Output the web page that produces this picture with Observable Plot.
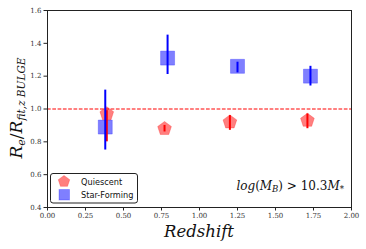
<!DOCTYPE html>
<html>
<head>
<meta charset="utf-8">
<script src="https://cdn.jsdelivr.net/npm/d3@7"></script>
<script src="https://cdn.jsdelivr.net/npm/@observablehq/plot@0.6"></script>
<style>
  html, body { margin: 0; padding: 0; background: #fff; }
  #chart svg { display: block; }
</style>
</head>
<body>
<div id="chart"></div>
<script>
// Quiescent (red pentagons)
const redshiftQ = [0.39, 0.77, 1.20, 1.71];
const ratioQ    = [0.97, 0.88, 0.92, 0.93];
const lowQ      = [0.80, 0.86, 0.87, 0.88];
const highQ     = [0.99, 0.90, 0.96, 0.97];
// Star-Forming (blue squares)
const redshiftSF = [0.38, 0.79, 1.25, 1.73];
const ratioSF    = [0.89, 1.31, 1.26, 1.20];
const lowSF      = [0.75, 1.21, 1.22, 1.14];
const highSF     = [1.115, 1.45, 1.285, 1.26];
// axes
const xTicks = [0, 0.25, 0.5, 0.75, 1.0, 1.25, 1.5, 1.75, 2.0];
const yTicks = [0.4, 0.6, 0.8, 1.0, 1.2, 1.4, 1.6];
const refLine = [1.0];

const quiescent = redshiftQ.map((z, i) => ({z, r: ratioQ[i], lo: lowQ[i], hi: highQ[i]}));
const starForming = redshiftSF.map((z, i) => ({z, r: ratioSF[i], lo: lowSF[i], hi: highSF[i]}));

const pentagon = {
  draw(ctx, size) {
    const r = Math.sqrt(size / Math.PI);
    for (let i = 0; i < 5; i++) {
      const a = -Math.PI / 2 + i * 2 * Math.PI / 5;
      const x = r * Math.cos(a), y = r * Math.sin(a);
      if (i) ctx.lineTo(x, y); else ctx.moveTo(x, y);
    }
    ctx.closePath();
  }
};

const svg = Plot.plot({
  width: 366,
  height: 249,
  marginLeft: 47,
  marginRight: 15,
  marginTop: 10,
  marginBottom: 42,
  style: {fontFamily: "DejaVu Serif", fontSize: "7px", color: "#333", background: "#fff"},
  x: {domain: [0, 2]},
  y: {domain: [0.4, 1.6]},
  marks: [
    Plot.axisX({ticks: xTicks, tickFormat: d => d.toFixed(2), tickSize: 3.5, tickPadding: 2.5, label: null, stroke: "#222"}),
    Plot.axisY({ticks: yTicks, tickFormat: d => d.toFixed(1), tickSize: 3.5, tickPadding: 2.5, label: null, stroke: "#222"}),
    Plot.ruleY(refLine, {stroke: "red", strokeWidth: 1, strokeDasharray: "3.7,1.6"}),
    Plot.dot(starForming, {x: "z", y: "r", symbol: "square", r: 7.9, fill: "blue", fillOpacity: 0.5, stroke: "blue", strokeOpacity: 0.25, strokeWidth: 1}),
    Plot.dot(quiescent, {x: "z", y: "r", symbol: pentagon, r: 7.2, fill: "red", fillOpacity: 0.5, stroke: "red", strokeOpacity: 0.25, strokeWidth: 1}),
    Plot.ruleX(quiescent, {x: "z", y1: "lo", y2: "hi", stroke: "red", strokeWidth: 2}),
    Plot.ruleX(starForming, {x: "z", y1: "lo", y2: "hi", stroke: "blue", strokeWidth: 2}),
    Plot.frame({stroke: "#222", strokeWidth: 1})
  ]
});
document.getElementById("chart").appendChild(svg);

const s = d3.select(svg);
const math = "DejaVu Serif";

// x label
s.append("text")
  .attr("x", 199).attr("y", 237)
  .attr("text-anchor", "middle")
  .attr("font-family", math).attr("font-style", "italic")
  .attr("font-size", 16.5).attr("fill", "#111")
  .text("Redshift");

// y label
const yl = s.append("text")
  .attr("transform", "translate(22,108) rotate(-90)")
  .attr("text-anchor", "middle")
  .attr("font-family", math).attr("font-style", "italic")
  .attr("font-size", 17).attr("fill", "#111");
yl.append("tspan").text("R");
yl.append("tspan").attr("font-size", 11).attr("dy", 3).text("e");
yl.append("tspan").attr("dy", -3).attr("font-style", "normal").text("/");
yl.append("tspan").text("R");
yl.append("tspan").attr("font-size", 10.5).attr("dy", 3).text("fit,z BULGE");

// annotation
const an = s.append("text")
  .attr("x", 344).attr("y", 190)
  .attr("text-anchor", "end")
  .attr("font-family", math).attr("font-size", 12).attr("fill", "#111");
an.append("tspan").attr("font-style", "italic").text("log");
an.append("tspan").text("(");
an.append("tspan").attr("font-style", "italic").text("M");
an.append("tspan").attr("font-style", "italic").attr("font-size", 8.5).attr("dy", 2).text("B");
an.append("tspan").attr("dy", -2).text(") > 10.3");
an.append("tspan").attr("font-style", "italic").text("M");
an.append("tspan").attr("font-size", 8.5).attr("dy", 2).text("*");

// legend
const lg = s.append("g");
lg.append("rect").attr("x", 50.5).attr("y", 173.5).attr("width", 87).attr("height", 29.5)
  .attr("rx", 2.5).attr("fill", "white").attr("fill-opacity", 0.8).attr("stroke", "#222").attr("stroke-width", 1);
const pent = d3.symbol(pentagon, Math.PI * 6 * 6)();
lg.append("path").attr("d", pent).attr("transform", "translate(64,181.5)")
  .attr("fill", "red").attr("fill-opacity", 0.5).attr("stroke", "red").attr("stroke-opacity", 0.25);
lg.append("rect").attr("x", 59).attr("y", 189.5).attr("width", 10.5).attr("height", 10.5)
  .attr("fill", "blue").attr("fill-opacity", 0.5).attr("stroke", "blue").attr("stroke-opacity", 0.25);
lg.append("text").attr("x", 81).attr("y", 184.5).attr("text-anchor", "start").attr("font-family", "DejaVu Sans").attr("font-size", 8.2).attr("fill", "#111").text("Quiescent");
lg.append("text").attr("x", 81).attr("y", 197.5).attr("text-anchor", "start").attr("font-family", "DejaVu Sans").attr("font-size", 8.2).attr("fill", "#111").text("Star-Forming");
</script>
</body>
</html>
